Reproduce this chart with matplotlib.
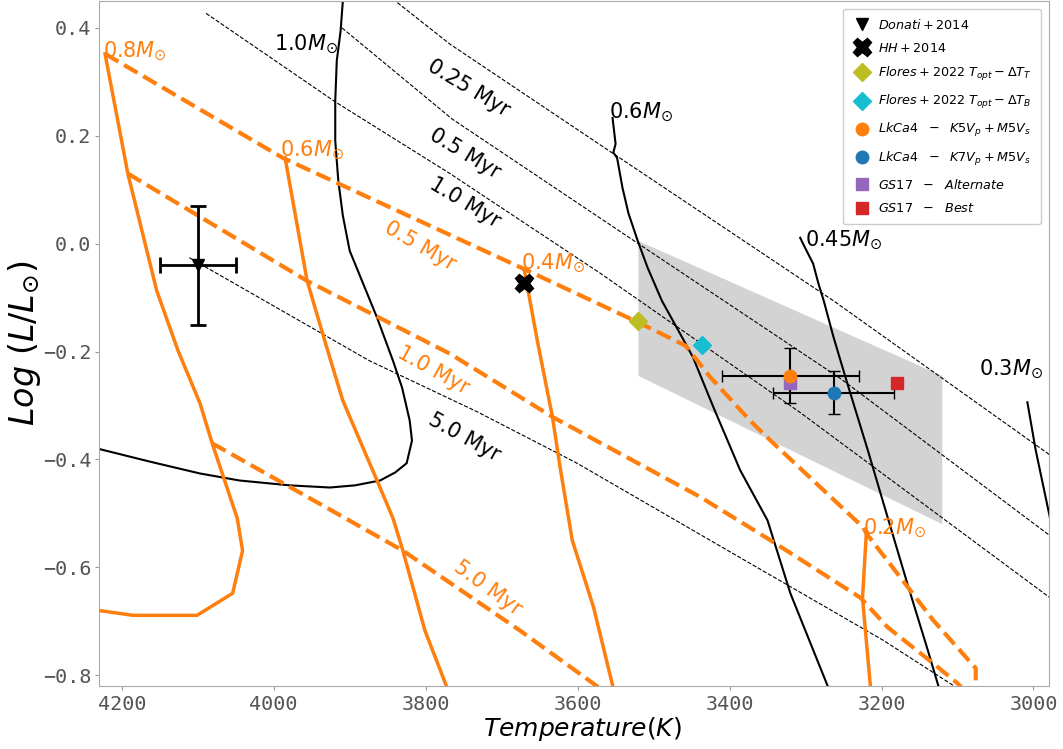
import matplotlib
matplotlib.use('Agg')
import matplotlib.pyplot as plt

# --- black mass tracks (solid) ---
m10_T = [3909, 3912, 3917, 3919, 3919, 3915, 3909, 3900, 3864, 3843, 3831, 3821, 3818, 3825, 3840, 3860, 3893, 3926, 3979, 4045, 4097, 4163, 4240]
m10_L = [0.45, 0.394, 0.339, 0.265, 0.191, 0.117, 0.052, -0.013, -0.137, -0.217, -0.267, -0.328, -0.365, -0.407, -0.424, -0.439, -0.448, -0.452, -0.448, -0.439, -0.426, -0.404, -0.377]
m06_T = [3554, 3550, 3553, 3548, 3541, 3533, 3521, 3508, 3489, 3458, 3448, 3421, 3386, 3350, 3320, 3268]
m06_L = [0.233, 0.185, 0.169, 0.159, 0.104, 0.056, 0.006, -0.044, -0.106, -0.185, -0.211, -0.304, -0.420, -0.513, -0.648, -0.83]
m045_T = [3307, 3304, 3290, 3283, 3276, 3263, 3245, 3218, 3192, 3166, 3139, 3123]
m045_L = [0.011, 0.002, -0.037, -0.074, -0.106, -0.174, -0.259, -0.383, -0.507, -0.630, -0.754, -0.83]
m03_T = [3008, 2997, 2975]
m03_L = [-0.294, -0.383, -0.53]

# --- black isochrones (thin dashed) ---
i025_T = [3858, 3840, 3768, 3553, 3263, 2970]
i025_L = [0.47, 0.45, 0.370, 0.167, -0.106, -0.40]
i05_T = [3910, 3765, 3520, 3254, 2970]
i05_L = [0.40, 0.231, 0.0, -0.25, -0.55]
i10_T = [4089, 3919, 3768, 3571, 3307, 2970]
i10_L = [0.427, 0.263, 0.130, -0.054, -0.313, -0.665]
i50_T = [4111, 3874, 3733, 3602, 3364, 3198, 3100]
i50_L = [-0.026, -0.217, -0.311, -0.406, -0.600, -0.735, -0.824]

# --- orange isochrones (thick dashed) ---
o05_T = [4222, 3988, 3672, 3520, 3458, 3425, 3373, 3346, 3224, 3220, 3175, 3132, 3076, 3076]
o05_L = [0.352, 0.159, -0.046, -0.146, -0.189, -0.248, -0.328, -0.365, -0.526, -0.537, -0.619, -0.698, -0.787, -0.83]
o10_T = [4192, 3956, 3768, 3632, 3438, 3346, 3228, 3192, 3132, 3100, 3090]
o10_L = [0.130, -0.069, -0.204, -0.322, -0.470, -0.55, -0.656, -0.711, -0.778, -0.815, -0.83]
o50_T = [4081, 3830, 3676, 3565]
o50_L = [-0.370, -0.569, -0.717, -0.83]

# --- orange mass tracks (thick solid) ---
om08_T = [4222, 4192, 4154, 4126, 4097, 4081, 4048, 4041, 4054, 4101, 4185, 4240]
om08_L = [0.352, 0.130, -0.087, -0.198, -0.296, -0.370, -0.509, -0.569, -0.648, -0.689, -0.689, -0.678]
om06_T = [3985, 3956, 3929, 3909, 3864, 3843, 3830, 3801, 3770]
om06_L = [0.159, -0.069, -0.198, -0.291, -0.439, -0.509, -0.569, -0.717, -0.83]
om04_T = [3670, 3653, 3633, 3623, 3607, 3579, 3552]
om04_L = [-0.05, -0.18, -0.322, -0.415, -0.55, -0.674, -0.83]
om02_T = [3220, 3225, 3214]
om02_L = [-0.537, -0.657, -0.83]

# --- shaded region ---
shade_T = [3520, 3120, 3120, 3520]
shade_L = [0.005, -0.245, -0.52, -0.245]

# --- observations ---
donati = (4100, -0.04, 50, 0.11)
hh = (3670, -0.072)
flores_T = (3520, -0.144)
flores_B = (3436, -0.187)
lk_k5 = (3320, -0.245, 90, 0.051)
lk_k7 = (3263, -0.276, 80, 0.04)
gs_alt = (3320, -0.259)
gs_best = (3180, -0.259)

orange = '#ff7f0e'

fig = plt.figure(figsize=(10.63, 7.49), dpi=100)
ax = fig.add_axes([0.0931, 0.0841, 0.8934, 0.9146])

ax.fill(shade_T, shade_L, color='lightgray', zorder=0, lw=0)

for T, L in [(m10_T, m10_L), (m06_T, m06_L), (m045_T, m045_L), (m03_T, m03_L)]:
    ax.plot(T, L, color='k', lw=1.5, zorder=2)
for T, L in [(i025_T, i025_L), (i05_T, i05_L), (i10_T, i10_L), (i50_T, i50_L)]:
    ax.plot(T, L, color='k', lw=0.8, ls='--', zorder=2)
for T, L in [(o05_T, o05_L), (o10_T, o10_L), (o50_T, o50_L)]:
    ax.plot(T, L, color=orange, lw=3, ls='--', zorder=3)
for T, L in [(om08_T, om08_L), (om06_T, om06_L), (om04_T, om04_L), (om02_T, om02_L)]:
    ax.plot(T, L, color=orange, lw=2.5, zorder=3)

# data points
ax.errorbar(donati[0], donati[1], xerr=donati[2], yerr=donati[3], color='k', lw=2, capsize=6, capthick=2, zorder=5)
ax.plot(donati[0], donati[1], 'v', color='k', ms=9, ls='none', zorder=6, label=r'$Donati+2014$')
ax.plot(hh[0], hh[1], 'X', color='k', ms=13, ls='none', zorder=6, label=r'$HH+2014$')
ax.plot(flores_T[0], flores_T[1], 'D', color='tab:olive', ms=9, ls='none', zorder=6,
        label=r'$Flores+2022\ T_{opt}-\Delta T_T$')
ax.plot(flores_B[0], flores_B[1], 'D', color='tab:cyan', ms=9, ls='none', zorder=6,
        label=r'$Flores+2022\ T_{opt}-\Delta T_B$')
ax.errorbar(lk_k5[0], lk_k5[1], xerr=lk_k5[2], yerr=lk_k5[3], color='k', lw=1.5, capsize=4, zorder=5)
ax.errorbar(lk_k7[0], lk_k7[1], xerr=lk_k7[2], yerr=lk_k7[3], color='k', lw=1.5, capsize=4, zorder=5)
ax.plot(lk_k5[0], lk_k5[1], 'o', color='tab:orange', ms=9, ls='none', zorder=7,
        label=r'$LkCa4\ \ -\ \ K5V_p+M5V_s$')
ax.plot(lk_k7[0], lk_k7[1], 'o', color='tab:blue', ms=9, ls='none', zorder=7,
        label=r'$LkCa4\ \ -\ \ K7V_p+M5V_s$')
ax.plot(gs_alt[0], gs_alt[1], 's', color='tab:purple', ms=8, ls='none', zorder=6,
        label=r'$GS17\ \ -\ \ Alternate$')
ax.plot(gs_best[0], gs_best[1], 's', color='tab:red', ms=8, ls='none', zorder=6,
        label=r'$GS17\ \ -\ \ Best$')

# labels on tracks / isochrones
fs = 15
ax.text(3743, 0.289, '0.25 Myr', rotation=-31, fontsize=fs, ha='center', va='center')
ax.text(3749, 0.167, '0.5 Myr', rotation=-31, fontsize=fs, ha='center', va='center')
ax.text(3749, 0.076, '1.0 Myr', rotation=-31, fontsize=fs, ha='center', va='center')
ax.text(3749, -0.359, '5.0 Myr', rotation=-29, fontsize=fs, ha='center', va='center')
ax.text(3807, -0.004, '0.5 Myr', rotation=-30, fontsize=fs, ha='center', va='center', color=orange)
ax.text(3790, -0.235, '1.0 Myr', rotation=-29, fontsize=fs, ha='center', va='center', color=orange)
ax.text(3718, -0.639, '5.0 Myr', rotation=-36, fontsize=fs, ha='center', va='center', color=orange)

ax.text(3958, 0.37, r'$1.0M_{\odot}$', fontsize=fs, ha='center', va='center')
ax.text(3517, 0.244, r'$0.6M_{\odot}$', fontsize=fs, ha='center', va='center')
ax.text(3250, 0.006, r'$0.45M_{\odot}$', fontsize=fs, ha='center', va='center')
ax.text(3030, -0.233, r'$0.3M_{\odot}$', fontsize=fs, ha='center', va='center')
ax.text(4183, 0.357, r'$0.8M_{\odot}$', fontsize=fs, ha='center', va='center', color=orange)
ax.text(3950, 0.172, r'$0.6M_{\odot}$', fontsize=fs, ha='center', va='center', color=orange)
ax.text(3632, -0.037, r'$0.4M_{\odot}$', fontsize=fs, ha='center', va='center', color=orange)
ax.text(3183, -0.528, r'$0.2M_{\odot}$', fontsize=fs, ha='center', va='center', color=orange)

ax.set_xlim(4230, 2980)
ax.set_ylim(-0.82, 0.45)
ax.set_xticks([4200, 4000, 3800, 3600, 3400, 3200, 3000])
ax.set_yticks([-0.8, -0.6, -0.4, -0.2, 0.0, 0.2, 0.4])
ax.set_xlabel(r'$Temperature(K)$', fontsize=18)
ax.xaxis.set_label_coords(0.509, -0.043)
ax.set_ylabel(r'$Log\ (L/L_{\odot})$', fontsize=24)
ax.yaxis.set_label_coords(-0.059, 0.5)

for lab in ax.get_xticklabels() + ax.get_yticklabels():
    lab.set_fontfamily('DejaVu Sans Mono')
    lab.set_fontsize(14.5)
ax.tick_params(colors='#999999', labelcolor='#555555', length=3)
ax.tick_params(axis='y', pad=2.5)
for s in ax.spines.values():
    s.set_color('#aaaaaa')

ax.legend(loc='upper right', fontsize=9.2, labelspacing=0.8, borderpad=0.7, handletextpad=0.5,
          handlelength=1.6, framealpha=1, borderaxespad=0.6)

fig.savefig('out.png', dpi=100)
